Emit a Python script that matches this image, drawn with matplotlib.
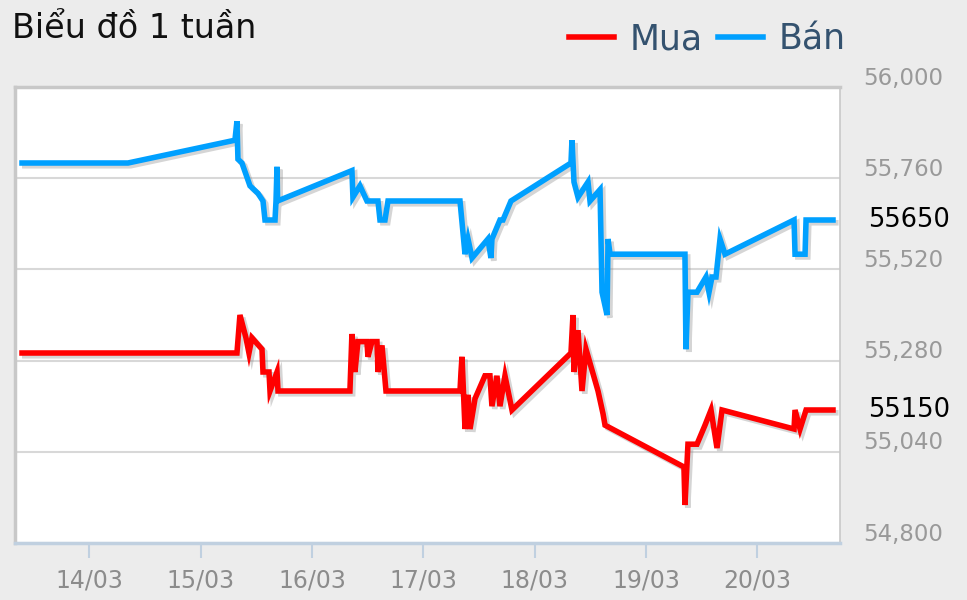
import matplotlib
matplotlib.use("Agg")
import matplotlib.pyplot as plt
import matplotlib.patheffects as pe
from matplotlib.transforms import offset_copy, blended_transform_factory
from matplotlib.lines import Line2D

# x = days since 14/03 00:00
ban_x = [-0.606, 0.346, 1.307, 1.325, 1.334, 1.370, 1.442, 1.514, 1.559, 1.577,
         1.667, 1.676, 1.685, 1.690, 2.358, 2.367, 2.430, 2.493, 2.592, 2.610,
         2.655, 2.682, 3.329, 3.374, 3.401, 3.437, 3.580, 3.607, 3.616, 3.688,
         3.715, 3.787, 4.326, 4.335, 4.353, 4.389, 4.479, 4.497, 4.587, 4.605,
         4.650, 4.659, 4.677, 5.350, 5.359, 5.377, 5.458, 5.539, 5.566, 5.593,
         5.629, 5.665, 5.710, 6.330, 6.339, 6.429, 6.438, 6.680]
ban_y = [55800, 55800, 55860, 55910, 55810, 55800, 55740, 55720, 55700, 55650,
         55650, 55700, 55790, 55700, 55780, 55710, 55740, 55700, 55700, 55650,
         55650, 55700, 55700, 55560, 55600, 55550, 55600, 55550, 55600, 55650,
         55650, 55700, 55800, 55860, 55750, 55710, 55750, 55700, 55730, 55460,
         55400, 55600, 55560, 55560, 55310, 55460, 55460, 55500, 55460, 55500,
         55500, 55600, 55560, 55650, 55560, 55560, 55650, 55650]

mua_x = [-0.606, 1.325, 1.352, 1.406, 1.433, 1.460, 1.550, 1.559, 1.613, 1.622,
         1.685, 1.694, 2.340, 2.358, 2.385, 2.412, 2.493, 2.502, 2.538, 2.583,
         2.592, 2.628, 2.664, 3.329, 3.338, 3.347, 3.374, 3.401, 3.419, 3.464,
         3.553, 3.598, 3.616, 3.661, 3.688, 3.733, 3.796, 4.326, 4.344, 4.353,
         4.389, 4.425, 4.461, 4.569, 4.614, 4.632, 5.341, 5.350, 5.377, 5.458,
         5.530, 5.584, 5.638, 5.683, 6.330, 6.339, 6.384, 6.438, 6.680]
mua_y = [55300, 55300, 55400, 55340, 55300, 55340, 55310, 55250, 55250, 55200,
         55250, 55200, 55200, 55350, 55250, 55330, 55330, 55290, 55330, 55330,
         55250, 55320, 55200, 55200, 55250, 55290, 55100, 55190, 55100, 55180,
         55240, 55240, 55160, 55240, 55160, 55240, 55150, 55300, 55400, 55250,
         55360, 55200, 55310, 55200, 55140, 55110, 55000, 54900, 55060, 55060,
         55110, 55150, 55050, 55150, 55100, 55150, 55100, 55150, 55150]

day_ticks = [0, 1, 2, 3, 4, 5, 6]
day_labels = ['14/03', '15/03', '16/03', '17/03', '18/03', '19/03', '20/03']
y_ticks = [54800, 55040, 55280, 55520, 55760, 56000]
last_mua = 55150
last_ban = 55650

plt.rcParams['font.family'] = ['DejaVu Sans']

fig = plt.figure(figsize=(9.67, 6.0), dpi=100, facecolor='#ececec')
ax = fig.add_axes([15/967, 57/600, 825/967, 456/600])
ax.set_facecolor('white')

shadow = [pe.SimpleLineShadow(offset=(2, -2), shadow_color='#888888', alpha=0.35),
          pe.Normal()]
ax.plot(mua_x, mua_y, color='#ff0000', lw=4, solid_joinstyle='miter',
        path_effects=shadow, zorder=3)
ax.plot(ban_x, ban_y, color='#00a0ff', lw=4, solid_joinstyle='miter',
        path_effects=shadow, zorder=3)

ax.set_xlim(-0.669, 6.743)
ax.set_ylim(54800, 56000)

ax.set_yticks(y_ticks)
ax.yaxis.set_tick_params(length=0, labelleft=False, labelright=False)
ax.grid(axis='y', color='#d8d8d8', lw=1.5)
ax.set_axisbelow(True)

ax.set_xticks(day_ticks)
ax.set_xticklabels(day_labels, color='#8c8c8c', fontsize=17)
ax.tick_params(axis='x', length=11, width=1.5, color='#c0d0e0', pad=7)

for s in ['left', 'top', 'right']:
    ax.spines[s].set_color('#c8c8c8')
ax.spines['left'].set_linewidth(2.5)
ax.spines['top'].set_linewidth(2.5)
ax.spines['right'].set_linewidth(1.2)
ax.spines['bottom'].set_color('#c0d0e0')
ax.spines['bottom'].set_linewidth(2.5)

# y labels on the right, drawn a bit above their gridline
trans = blended_transform_factory(ax.transAxes, ax.transData)
lab_trans = offset_copy(trans, fig=fig, x=103, y=9, units='dots')
for v in y_ticks:
    ax.text(1, v, f'{v:,}', transform=lab_trans, ha='right', va='center',
            color='#999999', fontsize=16.5, clip_on=False)

last_trans = offset_copy(trans, fig=fig, x=110, y=0, units='dots')
for v in [last_ban, last_mua]:
    ax.text(1, v, str(v), transform=last_trans, ha='right', va='center',
            color='black', fontsize=18.5, clip_on=False)

fig.text(12/967, 1 - 28/600, 'Biểu đồ 1 tuần', fontsize=24, color='#111111',
         ha='left', va='center')

handles = [Line2D([], [], color='#ff0000', lw=4),
           Line2D([], [], color='#00a0ff', lw=4)]
fig.legend(handles, ['Mua', 'Bán'], loc='center right',
           bbox_to_anchor=(846/967, 1 - 39/600), ncol=2, frameon=False,
           fontsize=25, labelcolor='#34526f', handlelength=1.3,
           handletextpad=0.45, columnspacing=0.45, borderaxespad=0,
           borderpad=0)

fig.savefig('out.png', dpi=100, facecolor=fig.get_facecolor())
